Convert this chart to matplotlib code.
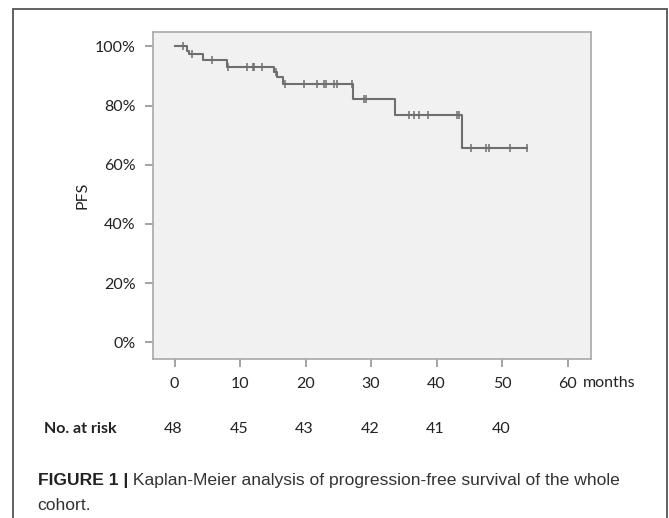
"""
Kaplan-Meier curve of progression-free survival with number-at-risk row.
"""

import numpy as np
import matplotlib
matplotlib.use('Agg')
import matplotlib.pyplot as plt
from matplotlib.patches import Rectangle

# step curve: month of each drop and survival level after it (in %)
step_months = [0, 1.85, 2.2, 4.4, 8.07, 15.2, 15.7, 16.6, 27.25, 33.6, 43.95]
step_pfs = [100, 98.4, 97.3, 95.3, 93.2, 91.4, 89.6, 87.4, 82.3, 76.8, 65.8]
last_month = 53.8

# censored observations (months)
censor_months = [1.35, 2.6, 5.7, 8.2, 11.0, 12.0, 12.2, 13.3, 15.5, 16.9,
                 19.7, 21.7, 22.8, 23.1, 24.3, 24.8, 27.1, 28.9, 29.2,
                 35.8, 36.5, 37.3, 38.7, 43.1, 43.4, 45.3, 47.5, 48.0,
                 51.2, 53.8]

xticks = [0, 10, 20, 30, 40, 50, 60]
yticks = [0, 20, 40, 60, 80, 100]
risk_months = [0, 10, 20, 30, 40, 50]
at_risk = [48, 45, 43, 42, 41, 40]

caption_bold = "FIGURE 1 |"
caption_line1 = " Kaplan-Meier analysis of progression-free survival of the whole"
caption_line2 = "cohort."

chart_font = ['Lato', 'DejaVu Sans']
cap_font = ['Liberation Sans', 'DejaVu Sans']

W, H = 669, 518
fig = plt.figure(figsize=(W / 100, H / 100), dpi=100)
fig.patch.set_facecolor('white')

ax = fig.add_axes([152.5 / W, 1 - 359 / H, (590.5 - 152.5) / W, (359 - 31.7) / H])
ax.set_facecolor('#f1f1f1')
for sp in ax.spines.values():
    sp.set_color('#a8a8a8')
    sp.set_linewidth(1.2)

# curve
xs = list(step_months) + [last_month]
ys = list(step_pfs) + [step_pfs[-1]]
ax.step(xs, ys, where='post', color='#6f6f6f', linewidth=1.5)

# censor marks placed on the curve
idx = np.searchsorted(step_months, censor_months, side='right') - 1
cens_y = np.array(step_pfs)[idx]
ax.plot(censor_months, cens_y, linestyle='none', marker='|', markersize=6,
        markeredgewidth=1.1, color='#6f6f6f')

ax.set_xlim(-3.36, 63.5)
ax.set_ylim(-5.65, 105.0)
ax.set_xticks(xticks)
ax.set_yticks(yticks)
ax.set_xticklabels([str(v) for v in xticks], fontfamily=chart_font, fontsize=11.5)
ax.set_yticklabels(["{}%".format(v) for v in yticks], fontfamily=chart_font, fontsize=11.5)
ax.tick_params(axis='both', colors='#8a8a8a', labelcolor='#222222', length=6, width=1.1)
ax.tick_params(axis='x', pad=7)
ax.tick_params(axis='y', pad=6)

ax.annotate("months", xy=(62.4, -0.0733), xycoords=('data', 'axes fraction'),
            ha='left', va='center', fontsize=11.5, fontfamily=chart_font,
            color='#222222', annotation_clip=False)

ax.set_ylabel("PFS", fontsize=11.5, fontfamily=chart_font, color='#222222')
ax.yaxis.set_label_coords((89.5 - 152.5) / (590.5 - 152.5), 0.5)

# number at risk row
row_y = (359 - 429) / (359 - 31.7)
for m, n in zip(risk_months, at_risk):
    ax.annotate(str(n), xy=(m - 0.2, row_y), xycoords=('data', 'axes fraction'),
                ha='center', va='center', fontsize=11.5, fontfamily=chart_font,
                color='#222222', annotation_clip=False)
fig.text(117 / W, 1 - 429 / H, "No. at risk", ha='right', va='center',
         fontsize=11.5, fontweight='bold', fontfamily=chart_font, color='#222222')

# outer frame
fig.patches.append(Rectangle((13 / W, -0.05), (667 - 13) / W, 1.05 - 9 / H,
                             transform=fig.transFigure, fill=False,
                             edgecolor='#555555', linewidth=1.3))

# caption
t1 = fig.text(37.5 / W, 1 - 481 / H, caption_bold, ha='left', va='center',
              fontsize=12.6, fontweight='bold', fontfamily=cap_font, color='#222222')
fig.add_artist(plt.Annotation(caption_line1, xy=(1, 0.5), xycoords=t1,
                              ha='left', va='center', fontsize=12.6,
                              fontfamily=cap_font, color='#333333'))
fig.text(37.5 / W, 1 - 506 / H, caption_line2, ha='left', va='center',
         fontsize=12.6, fontfamily=cap_font, color='#333333')

fig.savefig("out.png", dpi=100)
